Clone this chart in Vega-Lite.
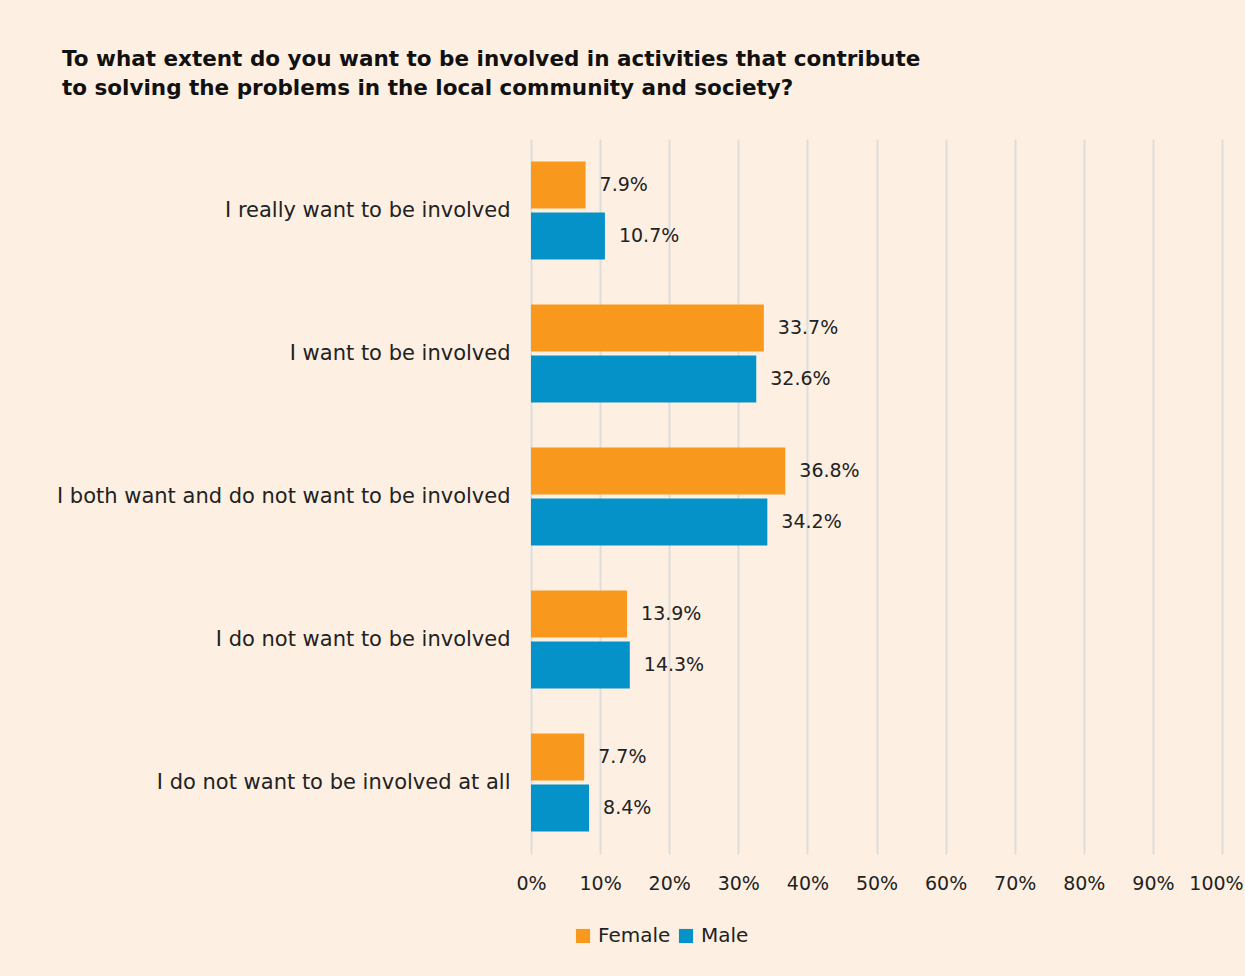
{
  "$schema": "https://vega.github.io/schema/vega-lite/v6.json",
  "width": 691,
  "height": 715,
  "autosize": "none",
  "padding": {"left": 531, "top": 139, "right": 23, "bottom": 122},
  "background": "#fdf0e2",
  "title": {
    "text": ["To what extent do you want to be involved in activities that contribute", "to solving the problems in the local community and society?"],
    "anchor": "start",
    "frame": "group",
    "dx": -469,
    "offset": 40,
    "font": "DejaVu Sans",
    "fontSize": 21.5,
    "fontWeight": "bold",
    "color": "#111111",
    "lineHeight": 29
  },
  "config": {
    "view": {"stroke": null},
    "font": "DejaVu Sans",
    "text": {"font": "DejaVu Sans"}
  },
  "data": {
    "values": [
      {"answer": "I really want to be involved", "gender": "Female", "value": 0.079},
      {"answer": "I really want to be involved", "gender": "Male", "value": 0.107},
      {"answer": "I want to be involved", "gender": "Female", "value": 0.337},
      {"answer": "I want to be involved", "gender": "Male", "value": 0.326},
      {"answer": "I both want and do not want to be involved", "gender": "Female", "value": 0.368},
      {"answer": "I both want and do not want to be involved", "gender": "Male", "value": 0.342},
      {"answer": "I do not want to be involved", "gender": "Female", "value": 0.139},
      {"answer": "I do not want to be involved", "gender": "Male", "value": 0.143},
      {"answer": "I do not want to be involved at all", "gender": "Female", "value": 0.077},
      {"answer": "I do not want to be involved at all", "gender": "Male", "value": 0.084}
    ]
  },
  "encoding": {
    "y": {
      "field": "answer",
      "type": "nominal",
      "sort": null,
      "scale": {"paddingInner": 0.315, "paddingOuter": 0.1575},
      "axis": {
        "title": null,
        "ticks": false,
        "domain": false,
        "labelFontSize": 21,
        "labelColor": "#222222",
        "labelPadding": 21,
        "labelLimit": 600
      }
    },
    "yOffset": {
      "field": "gender",
      "type": "nominal",
      "scale": {"paddingInner": 0.08, "paddingOuter": 0}
    },
    "x": {
      "field": "value",
      "type": "quantitative",
      "scale": {"domain": [0, 1], "nice": false},
      "axis": {
        "title": null,
        "format": "%",
        "values": [0, 0.1, 0.2, 0.3, 0.4, 0.5, 0.6, 0.7, 0.8, 0.9, 1],
        "ticks": false,
        "domain": false,
        "grid": true,
        "gridColor": "#dddddd",
        "gridWidth": 2,
        "labelFontSize": 19,
        "labelColor": "#222222",
        "labelPadding": 20,
        "labelFlush": false,
        "labelOverlap": false,
        "labelOffset": {"condition": {"test": "datum.value == 1", "value": -6}, "value": 0}
      }
    }
  },
  "layer": [
    {
      "mark": {"type": "bar"},
      "encoding": {
        "color": {
          "field": "gender",
          "type": "nominal",
          "scale": {"domain": ["Female", "Male"], "range": ["#f8991e", "#0592c8"]},
          "legend": {
            "title": null,
            "orient": "none",
            "direction": "horizontal",
            "legendX": 42,
            "legendY": 787,
            "symbolType": "square",
            "symbolSize": 200,
            "symbolStrokeWidth": 0,
            "labelFontSize": 20,
            "labelColor": "#222222",
            "columnPadding": 5,
            "labelOffset": 5
          }
        }
      }
    },
    {
      "mark": {"type": "text", "align": "left", "baseline": "middle", "dx": 14, "fontSize": 19, "color": "#222222"},
      "encoding": {
        "text": {"field": "value", "type": "quantitative", "format": ".1%"}
      }
    }
  ]
}
